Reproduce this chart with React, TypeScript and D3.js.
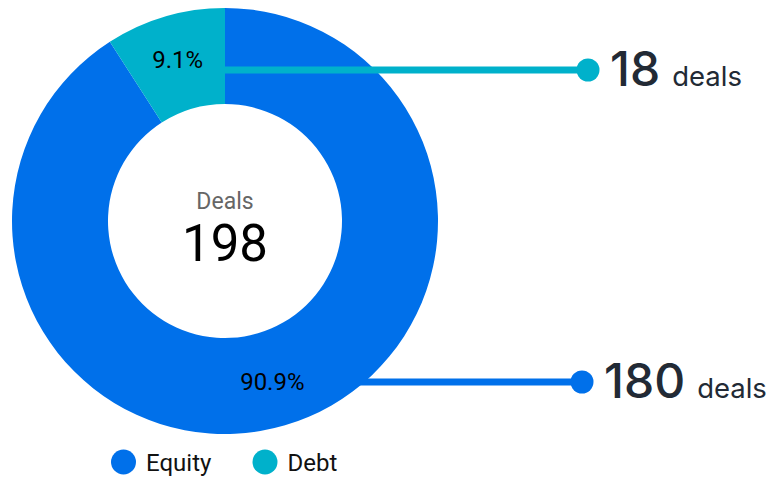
import React from "react";
import * as d3 from "d3";

// ---- data ----
const categories: string[] = ["Equity", "Debt"];
const dealCounts: number[] = [180, 18];
const seriesColors: string[] = ["#0070ea", "#00b1cb"];
const centerTitle = "Deals";
const unitLabel = "deals";

// ---- layout ----
const W = 774;
const H = 478;
const CX = 225;
const CY = 221;
const R_OUT = 213;
const R_IN = 117;
const annotRowY = [382, 70];
const annotDotX = [582, 588];
const legendCX = [123.5, 265];
const legendY = 462;
const chartFont = "Roboto, 'Noto Sans', sans-serif";
const annotFont = "Inter, 'Noto Sans', sans-serif";

export default function App() {
  const total = d3.sum(dealCounts);
  const pie = d3
    .pie<number>()
    .sort(null)
    .value((d) => d)
    .startAngle(0)
    .endAngle(2 * Math.PI);
  const arcs = pie(dealCounts);
  const arc = d3.arc<d3.PieArcDatum<number>>().innerRadius(R_IN).outerRadius(R_OUT);
  const labelArc = d3.arc<d3.PieArcDatum<number>>().innerRadius(R_IN + 51).outerRadius(R_IN + 51);
  const pct = d3.format(".1%");

  return (
    <svg
      width={W}
      height={H}
      viewBox={`0 0 ${W} ${H}`}
      style={{ position: "absolute", left: 0, top: 0, background: "#fff" }}
    >
      <g transform={`translate(${CX},${CY})`}>
        {arcs.map((a, i) => (
          <path key={categories[i]} d={arc(a) || ""} fill={seriesColors[i]} />
        ))}
      </g>
      {/* connector lines */}
      {arcs.map((a, i) => {
        const [x] = arc.centroid(a);
        return (
          <g key={"c" + i}>
            <line
              x1={CX + x}
              x2={annotDotX[i]}
              y1={annotRowY[i]}
              y2={annotRowY[i]}
              stroke={seriesColors[i]}
              strokeWidth={7}
            />
            <circle cx={annotDotX[i]} cy={annotRowY[i]} r={11.5} fill={seriesColors[i]} />
            <text
              x={annotDotX[i] + 22}
              y={annotRowY[i] + 16}
              fontFamily={annotFont}
              fill="#222a35"
            >
              <tspan fontSize={48} fontWeight={500}>{dealCounts[i]}</tspan>
              <tspan dx={12} fontSize={27.5}>{unitLabel}</tspan>
            </text>
          </g>
        );
      })}
      {/* percent labels */}
      {arcs.map((a, i) => {
        const [x, y] = labelArc.centroid(a);
        return (
          <text
            key={"p" + i}
            x={CX + x}
            y={CY + y}
            textAnchor="middle"
            dominantBaseline="central"
            fontFamily={chartFont}
            fontSize={24}
            fill="#000"
          >
            {pct(dealCounts[i] / total)}
          </text>
        );
      })}
      {/* center */}
      <text
        x={CX}
        y={209}
        textAnchor="middle"
        fontFamily={chartFont}
        fontSize={23}
        fill="#666"
      >
        {centerTitle}
      </text>
      <text
        x={CX}
        y={261}
        textAnchor="middle"
        fontFamily={chartFont}
        fontSize={51}
        fill="#000"
      >
        {total}
      </text>
      {/* legend */}
      {categories.map((c, i) => (
        <g key={"l" + c}>
          <circle cx={legendCX[i]} cy={legendY} r={12.5} fill={seriesColors[i]} />
          <text
            x={legendCX[i] + 22.5}
            y={legendY + 8.5}
            fontFamily={chartFont}
            fontSize={24}
            fill="#111"
          >
            {c}
          </text>
        </g>
      ))}
    </svg>
  );
}
